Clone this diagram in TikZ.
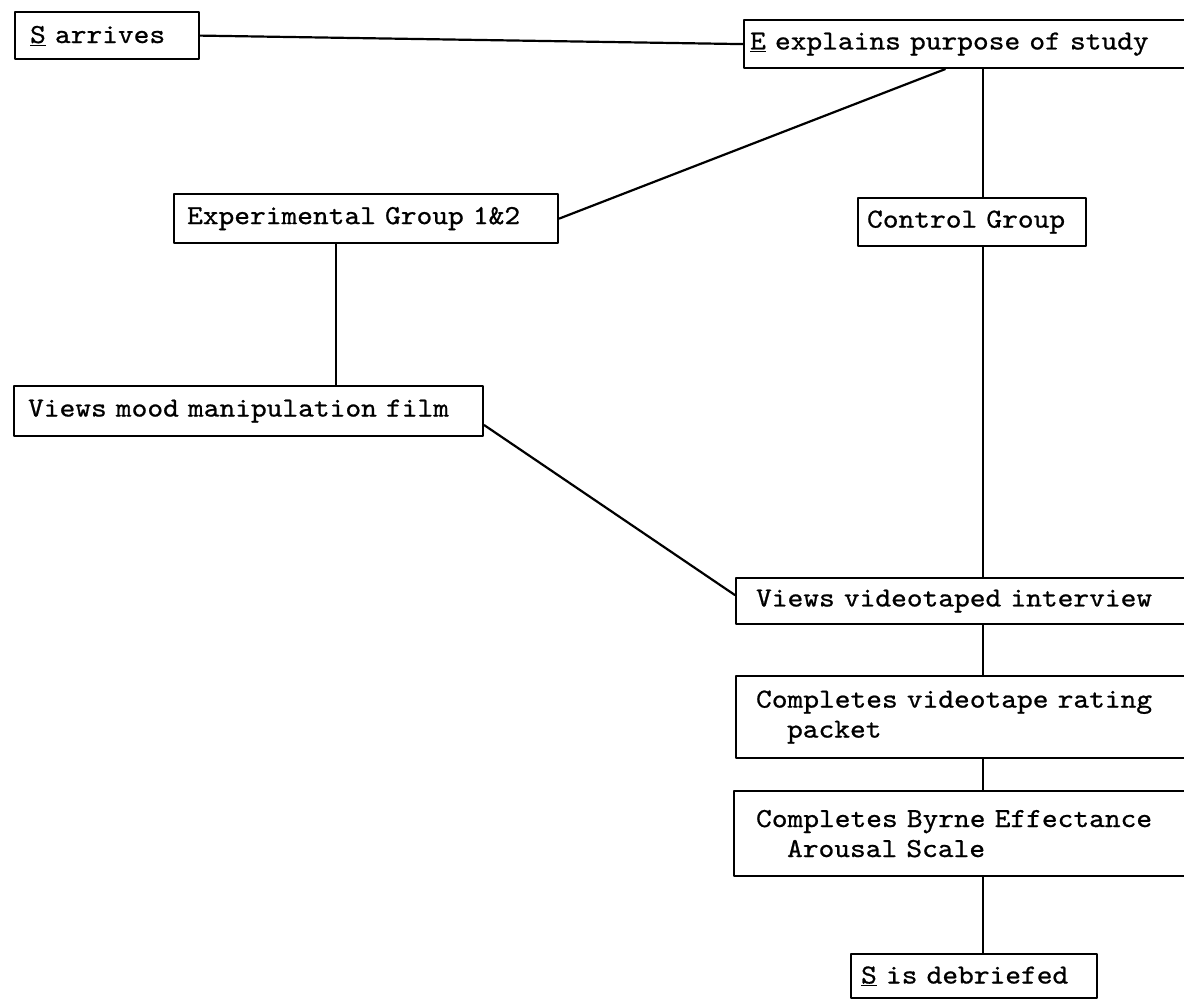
\documentclass[tikz,border=0pt]{standalone}
\usepackage{fontspec}
\newfontfamily\typerfont{lmmono10-regular}[Extension=.otf,FakeStretch=1.09,FakeBold=0.8]
\usetikzlibrary{positioning}

\tikzset{
  stage/.style={draw,line width=2.2pt,rectangle,anchor=north west,align=left,
    inner xsep=15pt,inner ysep=0pt,
    font=\typerfont\fontsize{27.5}{30}\selectfont},
  link/.style={line width=2.2pt}
}

\begin{document}
\begin{tikzpicture}[x=1pt,y=-1pt,line join=round,line cap=round]

  \useasboundingbox (0,0) rectangle (1184,999);

  % ---- spines ----
  \coordinate (spine) at (983,0);
  \coordinate (leftspine) at (336,0);

  % ---- top row ----
  \node[stage,text width=154pt,minimum height=47pt] (arrive) at (14,11) {\underline{S} arrives};
  \node[stage,inner xsep=6pt,text width=438pt,minimum height=48pt] (explain) at (743,19) {\underline{E} explains purpose of study};

  % ---- groups ----
  \node[stage,inner xsep=13pt,text width=358pt,minimum height=49pt] (expgrp) at (173,193) {Experimental Group 1\&2};
  \node[stage,inner xsep=9pt,text width=210pt,minimum height=48pt] (control) at (857,197) {Control Group};

  % ---- film ----
  \node[stage,inner xsep=14pt,text width=441pt,minimum height=50pt] (mood) at (13,385) {Views mood manipulation film};

  % ---- right column ----
  \node[stage,inner xsep=20pt,text width=420pt,minimum height=46pt] (interview) at (735,577) {Views videotaped interview};
  \node[stage,inner xsep=20pt,text width=420pt,minimum height=82pt] (rating) at (735,675) {Completes videotape rating\\\hspace*{31pt}packet};
  \node[stage,inner xsep=22pt,text width=416pt,minimum height=85pt] (byrne) at (733,790) {Completes Byrne Effectance\\\hspace*{31pt}Arousal Scale};
  \node[stage,inner xsep=10pt,text width=226pt,minimum height=44pt] (debrief) at (850,953) {\underline{S} is debriefed};

  % ---- connectors ----
  \draw[link] (arrive.east) -- (explain.west);
  \draw[link] ([xshift=202pt]explain.south west) -- (expgrp.east);
  \draw[link] (explain.south -| spine) -- (control.north -| spine);
  \draw[link] (expgrp.south -| leftspine) -- (mood.north -| leftspine);
  \draw[link] ([yshift=-14pt]mood.east) -- ([yshift=6pt]interview.west);
  \draw[link] (control.south -| spine) -- (interview.north -| spine);
  \draw[link] (interview.south -| spine) -- (rating.north -| spine);
  \draw[link] (rating.south -| spine) -- (byrne.north -| spine);
  \draw[link] (byrne.south -| spine) -- (debrief.north -| spine);

\end{tikzpicture}
\end{document}
